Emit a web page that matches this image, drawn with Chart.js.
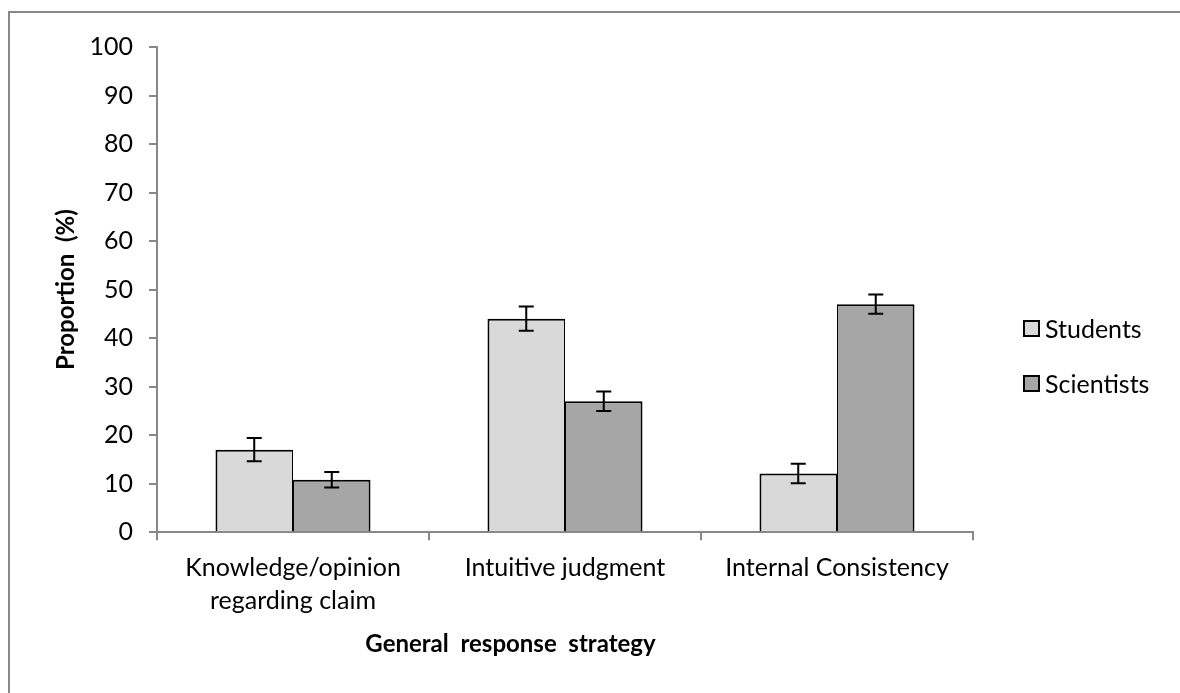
<!DOCTYPE html>
<html>
<head>
<meta charset="utf-8">
<script src="https://cdn.jsdelivr.net/npm/chart.js@4/dist/chart.umd.min.js"></script>
<style>
  body { margin: 0; background: #fff; }
  #wrap { position: relative; width: 1180px; height: 693px; overflow: hidden; background: #fff; }
  #frame { position: absolute; left: 8px; top: 11px; right: -10px; bottom: -10px;
           border-left: 2px solid #888; border-top: 2px solid #888; }
  canvas { position: absolute; left: 0; top: 0; }
  #legend { position: absolute; left: 1023px; top: 313px; font-family: Lato, sans-serif;
            font-size: 25px; color: #000; }
  .item { display: flex; align-items: center; height: 30px; margin-bottom: 25px; }
  .sw { width: 13px; height: 13px; border: 2px solid #000; margin-right: 5px; }
</style>
</head>
<body>
<div id="wrap">
  <div id="frame"></div>
  <canvas id="chart" width="1180" height="693"></canvas>
  <div id="legend"></div>
</div>
<script>
// Response strategies (x categories)
const categories = [["Knowledge/opinion", "regarding claim"], "Intuitive judgment", "Internal Consistency"];
const seriesNames = ["Students", "Scientists"];
const seriesColors = ["#d9d9d9", "#a6a6a6"];

// Mean proportion (%) per strategy
const students = [17.0, 44.0, 12.1];
const scientists = [10.8, 27.0, 47.0];

// Standard error for each mean
const studentsErr = [2.4, 2.5, 2.0];
const scientistsErr = [1.6, 2.0, 2.0];

// Y axis range
const yMin = 0;
const yMax = 100;
const yStep = 10;

const axisGray = "#888888";
const font = "Lato";

// Outline widths: the two bars of a pair share one thin edge where they touch
const seriesBorders = [
  { top: 2, left: 2, right: 1, bottom: 0 },
  { top: 2, left: 1, right: 2, bottom: 0 }
];

// Draws the ± error whiskers on top of each bar
const errorBarPlugin = {
  id: "errorBars",
  afterDatasetsDraw(chart) {
    const ctx = chart.ctx;
    const yScale = chart.scales.y;
    chart.data.datasets.forEach((ds, di) => {
      const meta = chart.getDatasetMeta(di);
      meta.data.forEach((bar, i) => {
        const v = ds.data[i];
        const e = ds.errors[i];
        const yTop = yScale.getPixelForValue(v + e);
        const yBot = yScale.getPixelForValue(v - e);
        const cap = 7.5;
        ctx.save();
        ctx.strokeStyle = "#000";
        ctx.lineWidth = 2;
        ctx.beginPath();
        ctx.moveTo(bar.x, yTop); ctx.lineTo(bar.x, yBot);
        ctx.moveTo(bar.x - cap, yTop); ctx.lineTo(bar.x + cap, yTop);
        ctx.moveTo(bar.x - cap, yBot); ctx.lineTo(bar.x + cap, yBot);
        ctx.stroke();
        ctx.restore();
      });
    });
  }
};

const seriesValues = [students, scientists];
const seriesErrors = [studentsErr, scientistsErr];

const chart = new Chart(document.getElementById("chart"), {
  type: "bar",
  data: {
    labels: categories,
    datasets: seriesNames.map((name, k) => ({
      label: name,
      data: seriesValues[k],
      errors: seriesErrors[k],
      backgroundColor: seriesColors[k],
      borderColor: "#000",
      borderWidth: seriesBorders[k],
      borderSkipped: false,
      categoryPercentage: 0.57,
      barPercentage: 1.0
    }))
  },
  options: {
    responsive: false,
    animation: false,
    layout: { padding: { left: 48, right: 207, top: 47, bottom: 0 } },
    scales: {
      x: {
        grid: { display: true, drawOnChartArea: false, drawTicks: true, tickLength: 8,
                color: axisGray, lineWidth: 2, offset: true },
        border: { color: axisGray, width: 2 },
        ticks: { font: { family: font, size: 25, lineHeight: 1.32 }, color: "#000",
                 padding: 11, maxRotation: 0, autoSkip: false },
        afterFit(scale) { scale.height = 90; }
      },
      y: {
        min: yMin,
        max: yMax,
        ticks: { stepSize: yStep, font: { family: font, size: 25 }, color: "#000", padding: 16 },
        grid: { display: true, drawOnChartArea: false, drawTicks: true, tickLength: 8,
                color: axisGray, lineWidth: 2 },
        border: { color: axisGray, width: 2 },
        title: { display: true, text: "Proportion  (%)", color: "#000",
                 font: { family: font, size: 24, weight: "bold" }, padding: { top: 4, bottom: 0 } },
        afterFit(scale) { scale.width = 109; }
      }
    },
    plugins: {
      legend: { display: false },
      tooltip: { enabled: false },
      title: {
        display: true, position: "bottom", text: "General  response  strategy", color: "#000",
        font: { family: font, size: 24, weight: "bold" }, padding: { top: 8, bottom: 34 }
      }
    }
  },
  plugins: [errorBarPlugin]
});

// Legend built from the chart's datasets
const legendEl = document.getElementById("legend");
chart.data.datasets.forEach(ds => {
  const item = document.createElement("div");
  item.className = "item";
  const sw = document.createElement("span");
  sw.className = "sw";
  sw.style.background = ds.backgroundColor;
  const txt = document.createElement("span");
  txt.textContent = ds.label;
  item.appendChild(sw);
  item.appendChild(txt);
  legendEl.appendChild(item);
});
</script>
</body>
</html>
